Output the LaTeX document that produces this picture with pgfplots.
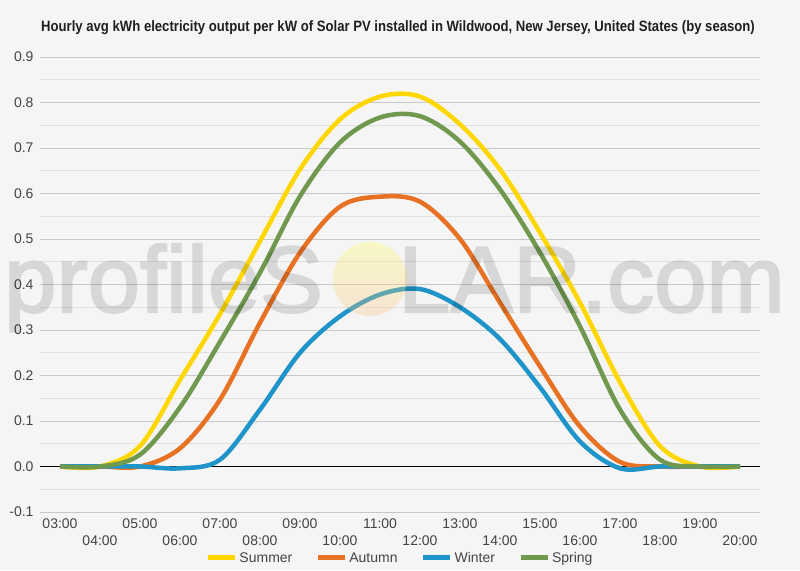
\documentclass[border=0pt]{standalone}
\usepackage{pgfplots}
\pgfplotsset{compat=1.18}
\usepackage{fontspec}
\setmainfont{Liberation Sans}
\newfontfamily\titlefont[FakeStretch=0.875]{Liberation Sans}
\newfontfamily\markfont[FakeBold=2.2]{Liberation Sans}

\definecolor{bgcol}{RGB}{245,245,245}
\definecolor{gridmaj}{RGB}{200,200,200}
\definecolor{gridmin}{RGB}{225,225,225}
\definecolor{ticktext}{RGB}{68,68,68}
\definecolor{summer}{RGB}{255,215,0}
\definecolor{autumn}{RGB}{232,114,36}
\definecolor{winter}{RGB}{31,148,200}
\definecolor{spring}{RGB}{112,153,79}
\definecolor{sunTop}{RGB}{255,255,90}
\definecolor{sunBot}{RGB}{250,190,130}

% hourly averages, kWh per kW installed
\pgfplotstableread{
hour summer autumn winter spring
3   0.000  0.000  0.000  0.000
4   0.000  0.000  0.000  0.000
5   0.045  0.000  0.000  0.026
6   0.190  0.040 -0.004  0.130
7   0.335  0.147  0.015  0.274
8   0.495  0.316  0.125  0.426
9   0.653  0.470  0.250  0.594
10  0.763  0.571  0.330  0.712
11  0.813  0.593  0.378  0.767
12  0.813  0.582  0.390  0.770
13  0.752  0.500  0.350  0.714
14  0.653  0.360  0.280  0.609
15  0.514  0.220  0.174  0.470
16  0.360  0.088  0.055  0.308
17  0.185  0.010 -0.004  0.125
18  0.045  0.000  0.000  0.015
19  0.000  0.000  0.000  0.000
20  0.000  0.000  0.000  0.000
}\solardata

\begin{document}
\begin{tikzpicture}
\useasboundingbox (0,0) rectangle (800pt,570pt);
\fill[bgcol] (0,0) rectangle (800pt,570pt);

\begin{axis}[
  at={(40pt,58pt)}, anchor=south west,
  scale only axis, width=720pt, height=455pt,
  xmin=2.5, xmax=20.5, ymin=-0.1, ymax=0.9,
  axis line style={draw=none},
  tick style={draw=none},
  major tick length=0pt,
  font=\fontsize{14}{16}\selectfont,
  xtick={3,5,7,9,11,13,15,17,19},
  xticklabels={03:00,05:00,07:00,09:00,11:00,13:00,15:00,17:00,19:00},
  extra x ticks={4,6,8,10,12,14,16,18,20},
  extra x tick labels={04:00,06:00,08:00,10:00,12:00,14:00,16:00,18:00,20:00},
  extra x tick style={xticklabel style={yshift=-17pt}},
  xticklabel style={text=ticktext, yshift=-3pt},
  ytick={-0.1,0,0.1,0.2,0.3,0.4,0.5,0.6,0.7,0.8,0.9},
  yticklabels={-0.1,0.0,0.1,0.2,0.3,0.4,0.5,0.6,0.7,0.8,0.9},
  yticklabel style={text=ticktext, xshift=-3pt},
  minor y tick num=1,
  ymajorgrids, yminorgrids,
  major grid style={gridmaj, line width=0.9pt},
  minor grid style={gridmin, line width=0.8pt},
  extra y ticks={0},
  extra y tick labels={},
  extra y tick style={grid=major, major grid style={black, line width=0.9pt}},
  legend columns=4,
  legend style={at={(0.5,-0.101)}, anchor=center, draw=none, fill=none,
    font=\fontsize{14}{16}\selectfont, text=ticktext,
    /tikz/every even column/.append style={column sep=21pt}},
  legend image code/.code={\draw[line width=5pt] (0pt,0pt) -- (27pt,0pt);},
  every axis plot/.append style={line width=4.5pt, smooth, tension=0.55, line join=round},
]
\addplot[summer] table[x=hour, y=summer] {\solardata};
\addlegendentry{Summer}
\addplot[autumn] table[x=hour, y=autumn] {\solardata};
\addlegendentry{Autumn}
\addplot[winter] table[x=hour, y=winter] {\solardata};
\addlegendentry{Winter}
\addplot[spring] table[x=hour, y=spring] {\solardata};
\addlegendentry{Spring}
\end{axis}

% chart title
\node[font=\titlefont\bfseries\fontsize{15}{17}\selectfont, text=black!88] at (398pt,542pt) {Hourly avg kWh electricity output per kW of Solar PV installed in Wildwood, New Jersey, United States (by season)};

% site watermark
\begin{scope}[transparency group, opacity=0.12, font=\markfont\fontsize{94}{94}\selectfont]
  \node[anchor=base west, inner sep=0pt, text=black] at (4pt,258pt) {profileS};
  \node[anchor=base east, inner sep=0pt, text=black] at (785pt,258pt) {LAR.com};
\end{scope}
\shade[top color=sunTop, bottom color=sunBot, opacity=0.3] (370pt,291pt) circle (37pt);
\end{tikzpicture}
\end{document}
